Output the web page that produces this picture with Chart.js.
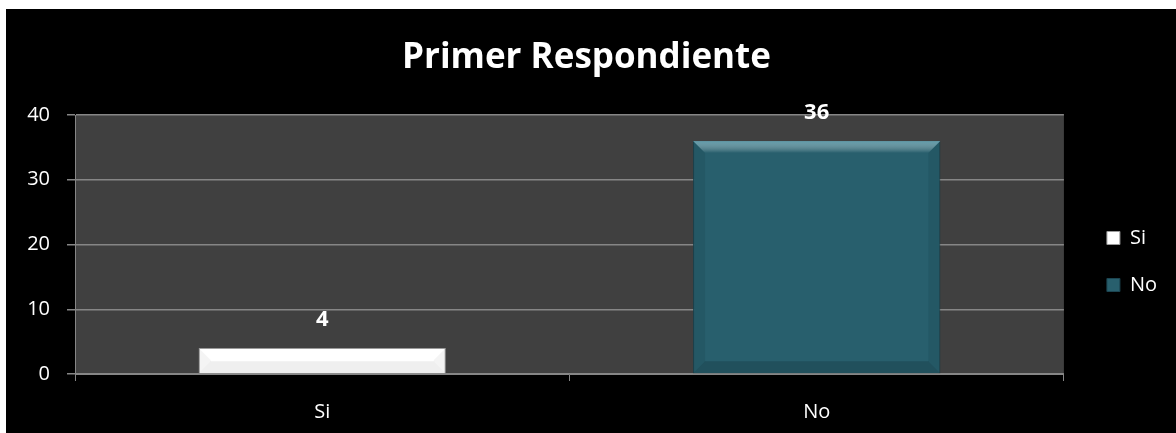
<!DOCTYPE html>
<html>
<head>
<meta charset="utf-8">
<script src="https://cdn.jsdelivr.net/npm/chart.js@4/dist/chart.umd.min.js"></script>
<style>
  html, body { margin: 0; padding: 0; background: #ffffff; }
  #wrap { position: absolute; left: 6px; top: 9px; width: 1170px; height: 424px; background: #000000; }
</style>
</head>
<body>
<div id="wrap"><canvas id="respChart" width="1170" height="424"></canvas></div>
<script>
const categories = ["Si", "No"];
const values = [4, 36];
const barColors = ["#ffffff", "#285f6d"];
const yTicks = [0, 10, 20, 30, 40];

const FONT = "'Open Sans', Lato, sans-serif";

// dark plot background
const plotBg = {
  id: "plotBg",
  beforeDraw(chart) {
    const { ctx, chartArea: a } = chart;
    ctx.save();
    ctx.fillStyle = "#404040";
    ctx.fillRect(a.left, a.top, a.right - a.left, a.bottom - a.top);
    ctx.restore();
  },
};

// bevel look on the bars + value labels above them
const barBevel = {
  id: "barBevel",
  afterDatasetsDraw(chart) {
    const ctx = chart.ctx;
    const meta = chart.getDatasetMeta(0);
    meta.data.forEach((bar, i) => {
      const l = bar.x - bar.width / 2, r = bar.x + bar.width / 2;
      const t = bar.y, b = bar.base;
      const bv = Math.min(12, (b - t) / 2);
      const light = i === 0 ? "rgba(255,255,255,0)" : "rgba(110,170,185,0.8)";
      const dark = i === 0 ? "rgba(120,120,120,0.08)" : "rgba(10,40,50,0.12)";
      ctx.save();
      // top
      let g = ctx.createLinearGradient(0, t, 0, t + bv);
      g.addColorStop(0, light);
      g.addColorStop(1, "rgba(255,255,255,0)");
      ctx.fillStyle = g;
      ctx.beginPath();
      ctx.moveTo(l, t); ctx.lineTo(r, t); ctx.lineTo(r - bv, t + bv); ctx.lineTo(l + bv, t + bv);
      ctx.closePath(); ctx.fill();
      // sides
      ctx.fillStyle = dark;
      ctx.beginPath();
      ctx.moveTo(l, t); ctx.lineTo(l + bv, t + bv); ctx.lineTo(l + bv, b - bv); ctx.lineTo(l, b);
      ctx.closePath(); ctx.fill();
      ctx.beginPath();
      ctx.moveTo(r, t); ctx.lineTo(r - bv, t + bv); ctx.lineTo(r - bv, b - bv); ctx.lineTo(r, b);
      ctx.closePath(); ctx.fill();
      // bottom
      ctx.fillStyle = i === 0 ? "rgba(150,150,150,0.15)" : "rgba(10,35,45,0.25)";
      ctx.beginPath();
      ctx.moveTo(l, b); ctx.lineTo(l + bv, b - bv); ctx.lineTo(r - bv, b - bv); ctx.lineTo(r, b);
      ctx.closePath(); ctx.fill();
      // value label
      ctx.fillStyle = "#ffffff";
      ctx.font = "bold 22px " + FONT;
      ctx.textAlign = "center";
      ctx.textBaseline = "middle";
      ctx.fillText(String(values[i]), bar.x, t - 28);
      ctx.restore();
    });
  },
};

new Chart(document.getElementById("respChart"), {
  type: "bar",
  data: {
    labels: categories,
    datasets: [
      {
        label: "Primer Respondiente",
        data: values,
        backgroundColor: barColors,
        borderColor: ["#9a9a9a", "#1c4551"],
        borderWidth: 1,
        barPercentage: 0.5,
        categoryPercentage: 1,
      },
    ],
  },
  options: {
    responsive: false,
    animation: false,
    layout: { padding: { left: 0, right: 9, top: 0, bottom: 0 } },
    plugins: {
      title: {
        display: true,
        text: "Primer Respondiente",
        color: "#ffffff",
        font: { family: FONT, size: 35, weight: "bold", lineHeight: 1.2 },
        padding: { top: 28, bottom: 36 },
      },
      legend: {
        position: "right",
        title: { display: true, text: "", font: { size: 10, lineHeight: 1 }, padding: { top: 71, bottom: 0 } },
        labels: {
          color: "#ffffff",
          font: { family: FONT, size: 20 },
          boxWidth: 13,
          boxHeight: 13,
          padding: 27,
          generateLabels: () =>
            categories.map((c, i) => ({
              text: c,
              fillStyle: barColors[i],
              strokeStyle: i === 0 ? "#9a9a9a" : "#1c4551",
              lineWidth: 1,
              fontColor: "#ffffff",
              index: i,
            })),
        },
      },
      tooltip: { enabled: false },
    },
    scales: {
      x: {
        grid: { display: true, drawOnChartArea: false, color: "#868686", tickLength: 7, offset: true },
        border: { color: "#868686" },
        ticks: { color: "#ffffff", font: { family: FONT, size: 20 }, padding: 19 },
        afterFit(s) { s.height = 59; },
      },
      y: {
        min: 0,
        max: 40,
        afterBuildTicks(s) { s.ticks = yTicks.map((v) => ({ value: v })); },
        grid: { color: "#868686", lineWidth: 1.5, tickLength: 8 },
        border: { color: "#868686" },
        ticks: { color: "#ffffff", font: { family: FONT, size: 20 }, padding: 17 },
        afterFit(s) { s.width = 69; },
      },
      gap: {
        position: "right",
        display: true,
        grid: { display: false },
        ticks: { display: false },
        border: { display: false },
        afterFit(s) { s.width = 16; },
      },
    },
  },
  plugins: [plotBg, barBevel],
});
</script>
</body>
</html>
